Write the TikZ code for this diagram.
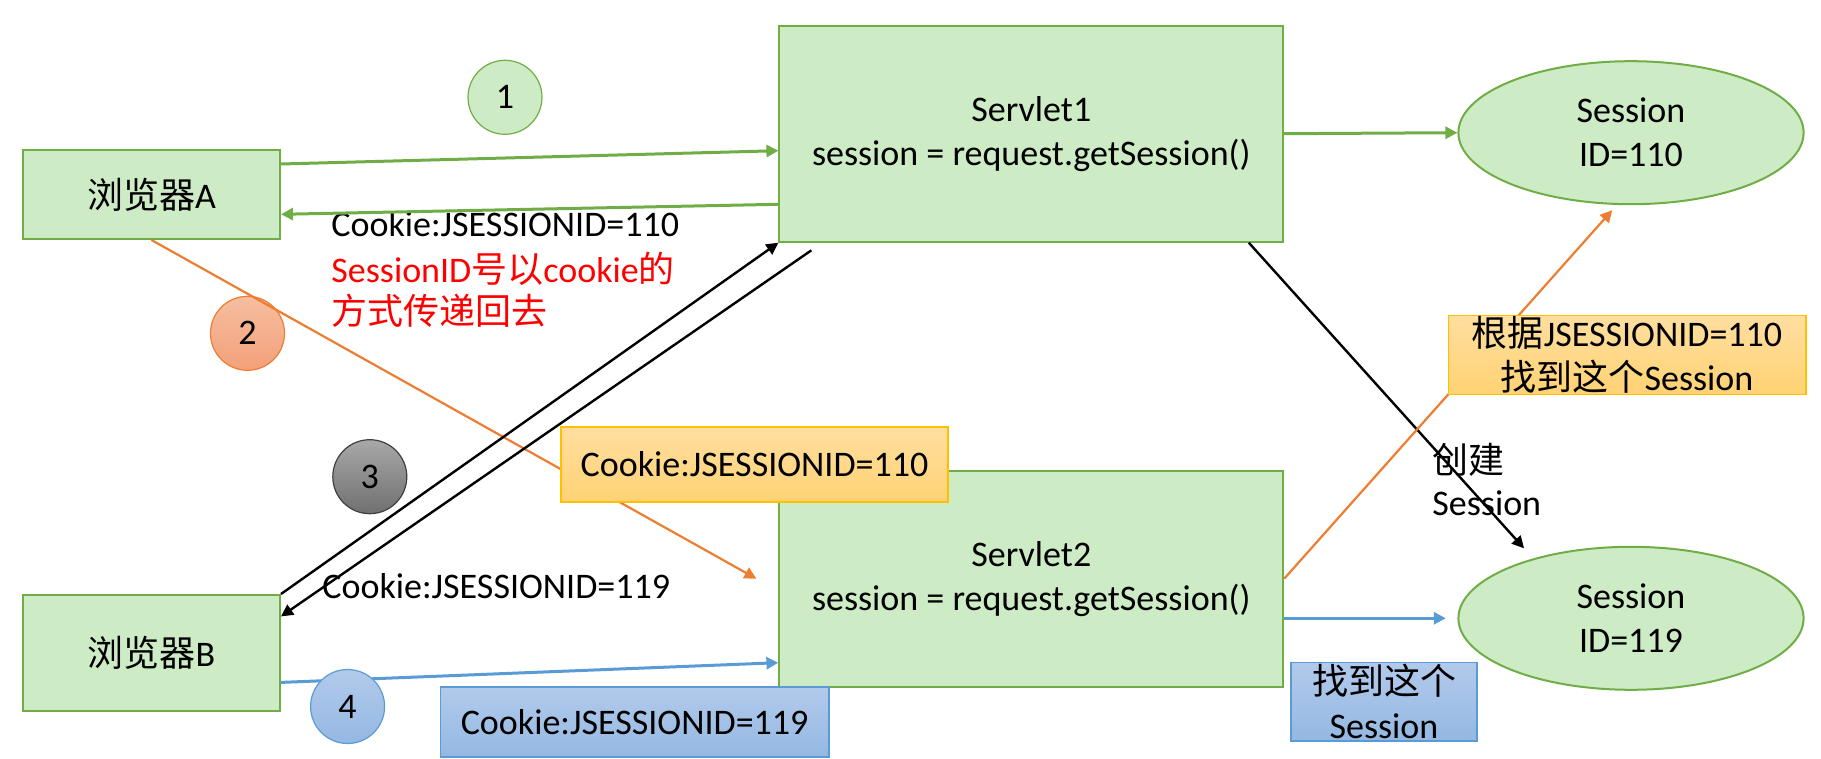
\documentclass[tikz,border=0pt]{standalone}
\usepackage{fontspec}
\setmainfont{Carlito}
\newfontfamily\cjk{Noto Sans CJK SC}
\usetikzlibrary{shapes.geometric,arrows.meta}

\definecolor{boxgreen}{RGB}{205,235,197}
\definecolor{linegreen}{RGB}{112,173,71}
\definecolor{lineorange}{RGB}{237,125,49}
\definecolor{lineblue}{RGB}{91,155,213}
\definecolor{goldline}{RGB}{255,192,0}
\definecolor{goldtop}{RGB}{255,222,160}
\definecolor{goldbot}{RGB}{255,210,115}
\definecolor{bluetop}{RGB}{178,202,235}
\definecolor{bluebot}{RGB}{148,184,226}
\definecolor{salmontop}{RGB}{246,190,160}
\definecolor{salmonbot}{RGB}{243,160,122}
\definecolor{greytop}{RGB}{168,168,168}
\definecolor{greybot}{RGB}{112,112,112}

\tikzset{
	every node/.style={font=\fontsize{18}{22}\selectfont},
	box/.style={draw=linegreen, fill=boxgreen, line width=1pt, align=center},
	sess/.style={ellipse, draw=linegreen, fill=boxgreen, line width=1pt, inner sep=0pt, minimum width=172.6pt, minimum height=71.5pt, align=center},
	num/.style={circle, minimum size=37pt, inner sep=0pt, line width=0.6pt},
	note/.style={anchor=base west, inner sep=0pt, align=left},
	goldbox/.style={draw=goldline, top color=goldtop, bottom color=goldbot, line width=0.8pt, align=center, inner sep=0pt},
	bluebox/.style={draw=lineblue, top color=bluetop, bottom color=bluebot, line width=0.8pt, align=center, inner sep=0pt},
	link/.style={line width=1.2pt, -{Triangle[length=6pt,width=6pt]}}
}

\begin{document}
\begin{tikzpicture}[x=0.5pt,y=-0.5pt]
	\useasboundingbox (0,0) rectangle (1821,759);

	\node[box, minimum width=128.5pt, minimum height=44.5pt] (brA) at (151.5,194.5) {{\cjk 浏览器}A};
	\node[box, minimum width=128.5pt, minimum height=58pt] (brB) at (151.5,653) {{\cjk 浏览器}B};
	\node[box, minimum width=251.9pt, minimum height=108pt] (sv1) at (1031.3,133.7) {Servlet1\\session = request.getSession()};
	\node[box, minimum width=251.9pt, minimum height=108pt] (sv2) at (1031.3,578.7) {Servlet2\\session = request.getSession()};
	\node[sess] (ses110) at (1631,132.7) {Session\\ID=110};
	\node[sess] (ses119) at (1631,618.3) {Session\\ID=119};
	\node[num, draw=linegreen, fill=boxgreen] (n1) at (505,97.3) {1};
	\node[num, draw=lineorange, top color=salmontop, bottom color=salmonbot] (n2) at (247.5,333.3) {2};
	\node[num, draw=black!75, top color=greytop, bottom color=greybot] (n3) at (369.8,476.7) {3};

	\node[note] (ckA) at (331,237) {Cookie:JSESSIONID=110};
	\node[note, text=red] (tipA) at (331,325) {SessionID{\cjk 号以}cookie{\cjk 的}\\[-1pt]{\cjk 方式传递回去}};
	\node[note] (ckB) at (322,598) {Cookie:JSESSIONID=119};
	\node[note] (mkB) at (1432,515) {{\cjk 创建}\\[-1pt]Session};

	\draw[link, linegreen, line width=1.5pt] ([yshift=-7.5pt]brA.north east) -- ([yshift=-8.5pt]sv1.west);
	\draw[link, linegreen, line width=1.5pt] ([yshift=-35.3pt]sv1.west) -- ([yshift=-9.9pt]brA.east);
	\draw[link, linegreen, line width=1.5pt] (sv1.east) -- (ses110.west);
	\draw[link, lineorange, line width=1.1pt] (brA.south) -- ([xshift=-11pt]sv2.west);
	\draw[link] (brB.north east) -- (sv1.south west);
	\draw[link] ([xshift=16.5pt,yshift=-3.8pt]sv1.south west) -- ([yshift=-11.2pt]brB.north east);
	\draw[link] ([xshift=-17.7pt]sv1.south east) -- ([xshift=-53.5pt,yshift=35pt]ses119.center);
	\draw[link, lineorange, line width=1.1pt] (sv2.east) -- ([xshift=-9.4pt,yshift=-2.5pt]ses110.south);
	\draw[link, lineblue, line width=1.5pt] ([yshift=-19.8pt]sv2.east) -- ([xshift=-5.8pt]ses119.west);
	\draw[link, lineblue, line width=1.5pt] ([yshift=-14.7pt]brB.east) -- ([yshift=-42pt]sv2.west);

	\node[goldbox, minimum width=193.5pt, minimum height=37.5pt] (ck110) at (754.5,464.5) {Cookie:JSESSIONID=110};
	\node[goldbox, minimum width=178.7pt, minimum height=39.3pt] (lookup) at (1627,355) {{\cjk 根据}JSESSIONID=110\\{\cjk 找到这个}Session};
	\node[bluebox, minimum width=194.2pt, minimum height=35pt] (ck119) at (634.6,721.8) {Cookie:JSESSIONID=119};
	\node[bluebox, minimum width=92.9pt, minimum height=39.4pt] (found) at (1384,701.7) {{\cjk 找到这个}\\Session};
	\node[num, draw=lineblue, top color=bluetop, bottom color=bluebot] (n4) at (347.6,706.5) {4};
\end{tikzpicture}
\end{document}
